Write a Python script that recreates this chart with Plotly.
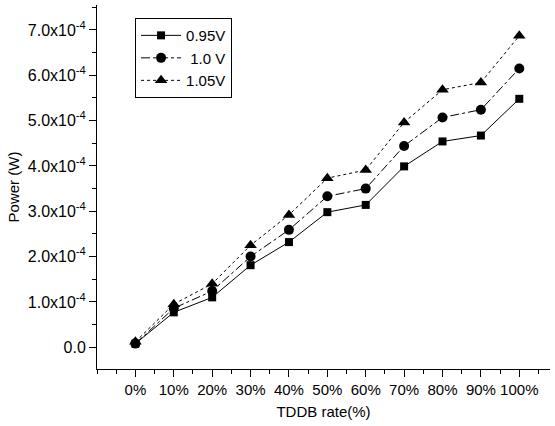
import plotly.graph_objects as go

x_labels = ["0%", "10%", "20%", "30%", "40%", "50%", "60%", "70%", "80%", "90%", "100%"]
x_pos = list(range(11))
v095 = [0.08e-4, 0.77e-4, 1.10e-4, 1.81e-4, 2.32e-4, 2.98e-4, 3.14e-4, 3.99e-4, 4.54e-4, 4.67e-4, 5.48e-4]
v100 = [0.08e-4, 0.86e-4, 1.24e-4, 2.00e-4, 2.59e-4, 3.33e-4, 3.50e-4, 4.44e-4, 5.07e-4, 5.24e-4, 6.15e-4]
v105 = [0.12e-4, 0.95e-4, 1.40e-4, 2.25e-4, 2.92e-4, 3.73e-4, 3.91e-4, 4.96e-4, 5.68e-4, 5.84e-4, 6.87e-4]
y_tickvals = [0, 1e-4, 2e-4, 3e-4, 4e-4, 5e-4, 6e-4, 7e-4]
y_ticktext = ["0.0"] + [f"{i}.0x10<sup>-4</sup>" for i in range(1, 8)]

FONT = "Liberation Sans, Arial, sans-serif"

fig = go.Figure()
fig.add_trace(go.Scatter(x=x_pos, y=v095, name="0.95V", mode="lines+markers",
                         line=dict(color="black", width=1, dash="solid"),
                         marker=dict(symbol="square", size=8, color="black")))
fig.add_trace(go.Scatter(x=x_pos, y=v100, name=" 1.0 V", mode="lines+markers",
                         line=dict(color="black", width=1, dash="dashdot"),
                         marker=dict(symbol="circle", size=10, color="black")))
fig.add_trace(go.Scatter(x=x_pos, y=v105, name="1.05V", mode="lines+markers",
                         line=dict(color="black", width=1, dash="dot"),
                         marker=dict(symbol="triangle-up", size=11, color="black")))

fig.update_layout(
    width=555, height=426,
    margin=dict(l=97, r=5, t=5, b=57),
    plot_bgcolor="white", paper_bgcolor="white",
    font=dict(family=FONT, size=15, color="black"),
    showlegend=True,
    legend=dict(x=0.084, y=0.964, xanchor="left", yanchor="top",
                bordercolor="black", borderwidth=1, bgcolor="white",
                font=dict(size=15), tracegroupgap=0, itemwidth=40),
    xaxis=dict(range=[-1, 10.8], tickvals=x_pos, ticktext=x_labels,
               showgrid=False, zeroline=False, showline=True, linecolor="black", linewidth=1,
               ticks="outside", ticklen=7, tickcolor="black",
               minor=dict(ticks="outside", ticklen=4, tick0=-1, dtick=0.5, tickcolor="black"),
               tickfont=dict(size=15),
               title=dict(text="TDDB rate(%)", font=dict(size=15), standoff=9)),
    yaxis=dict(range=[-0.48e-4, 7.55e-4], tickvals=y_tickvals, ticktext=y_ticktext,
               showgrid=False, zeroline=False, showline=True, linecolor="black", linewidth=1,
               ticks="outside", ticklen=7, tickcolor="black",
               minor=dict(ticks="outside", ticklen=4, tick0=0, dtick=0.5e-4, tickcolor="black"),
               tickfont=dict(size=16),
               title=dict(text="Power (W)", font=dict(size=15), standoff=4)),
)

fig.write_html("out.html", config={"displayModeBar": False},
               post_script="document.body.style.margin='0';document.body.style.padding='0';")
